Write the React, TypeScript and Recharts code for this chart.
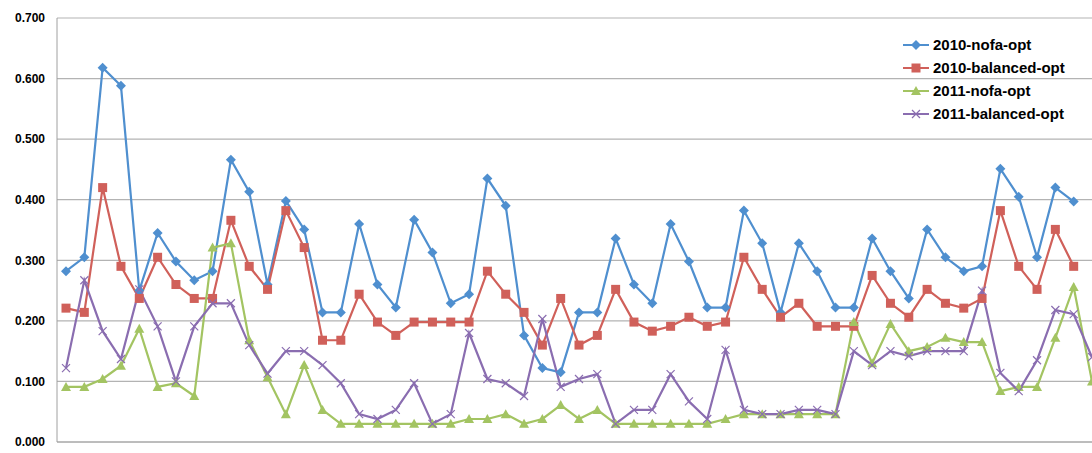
import { CartesianGrid, Line, LineChart, XAxis, YAxis } from 'recharts';

const nofa2010 = [0.282, 0.305, 0.618, 0.588, 0.25, 0.345, 0.298, 0.267, 0.282, 0.466, 0.413, 0.26, 0.398, 0.351, 0.214, 0.214, 0.36, 0.26, 0.222, 0.367, 0.313, 0.229, 0.244, 0.435, 0.39, 0.176, 0.122, 0.115, 0.214, 0.214, 0.336, 0.26, 0.229, 0.36, 0.298, 0.222, 0.222, 0.382, 0.328, 0.214, 0.328, 0.282, 0.222, 0.222, 0.336, 0.282, 0.237, 0.351, 0.305, 0.282, 0.29, 0.451, 0.405, 0.305, 0.42, 0.397, null];
const balanced2010 = [0.221, 0.214, 0.42, 0.29, 0.237, 0.305, 0.26, 0.237, 0.237, 0.366, 0.29, 0.252, 0.382, 0.321, 0.168, 0.168, 0.244, 0.198, 0.176, 0.198, 0.198, 0.198, 0.198, 0.282, 0.244, 0.214, 0.16, 0.237, 0.16, 0.176, 0.252, 0.198, 0.183, 0.191, 0.206, 0.191, 0.198, 0.305, 0.252, 0.206, 0.229, 0.191, 0.191, 0.191, 0.275, 0.229, 0.206, 0.252, 0.229, 0.221, 0.237, 0.382, 0.29, 0.252, 0.351, 0.29, null];
const nofa2011 = [0.091, 0.091, 0.104, 0.126, 0.187, 0.091, 0.097, 0.076, 0.321, 0.328, 0.168, 0.107, 0.046, 0.127, 0.053, 0.03, 0.03, 0.03, 0.03, 0.03, 0.03, 0.03, 0.038, 0.038, 0.046, 0.03, 0.038, 0.061, 0.038, 0.053, 0.03, 0.03, 0.03, 0.03, 0.03, 0.03, 0.038, 0.046, 0.046, 0.046, 0.046, 0.046, 0.046, 0.198, 0.13, 0.195, 0.15, 0.157, 0.172, 0.165, 0.165, 0.084, 0.091, 0.091, 0.172, 0.256, 0.1];
const balanced2011 = [0.122, 0.267, 0.183, 0.137, 0.252, 0.191, 0.1, 0.191, 0.229, 0.229, 0.16, 0.113, 0.15, 0.15, 0.127, 0.097, 0.046, 0.038, 0.053, 0.097, 0.03, 0.046, 0.18, 0.104, 0.097, 0.076, 0.203, 0.091, 0.104, 0.112, 0.03, 0.053, 0.053, 0.112, 0.067, 0.038, 0.152, 0.053, 0.046, 0.046, 0.053, 0.053, 0.046, 0.15, 0.127, 0.15, 0.142, 0.15, 0.15, 0.15, 0.25, 0.114, 0.084, 0.135, 0.218, 0.211, 0.14];
const yTicks = [0, 0.1, 0.2, 0.3, 0.4, 0.5, 0.6, 0.7];

const data = nofa2010.map((v, i) => ({
    idx: i + 1,
    a: v,
    b: balanced2010[i],
    c: nofa2011[i],
    d: balanced2011[i],
}));

const BLUE = '#4f8fcf';
const RED = '#d0605a';
const GREEN = '#a3c462';
const PURPLE = '#8a6db0';

function Marker({ cx, cy, kind, color }: any) {
    if (cx == null || cy == null || Number.isNaN(cy)) return null;
    if (kind === 'diamond') {
        return <path d={`M${cx},${cy - 5}L${cx + 5},${cy}L${cx},${cy + 5}L${cx - 5},${cy}Z`} fill={color} />;
    }
    if (kind === 'square') {
        return <rect x={cx - 4.5} y={cy - 4.5} width={9} height={9} fill={color} />;
    }
    if (kind === 'triangle') {
        return <path d={`M${cx},${cy - 5}L${cx + 5},${cy + 4}L${cx - 5},${cy + 4}Z`} fill={color} />;
    }
    return (
        <path d={`M${cx - 4},${cy - 4}L${cx + 4},${cy + 4}M${cx + 4},${cy - 4}L${cx - 4},${cy + 4}`} stroke={color} strokeWidth={1.2} />
    );
}

const series = [
    { key: 'a', name: '2010-nofa-opt', color: BLUE, kind: 'diamond' },
    { key: 'b', name: '2010-balanced-opt', color: RED, kind: 'square' },
    { key: 'c', name: '2011-nofa-opt', color: GREEN, kind: 'triangle' },
    { key: 'd', name: '2011-balanced-opt', color: PURPLE, kind: 'x' },
];

function LegendBox() {
    return (
        <div style={{ position: 'absolute', left: 903, top: 33, fontFamily: 'Arial, "Liberation Sans", sans-serif', fontWeight: 'bold', fontSize: 15 }}>
            {series.map((s) => (
                <div key={s.key} style={{ display: 'flex', alignItems: 'center', height: 23 }}>
                    <svg width={26} height={12} style={{ marginRight: 4 }}>
                        <line x1={0} y1={6} x2={26} y2={6} stroke={s.color} strokeWidth={2} />
                        <Marker cx={13} cy={6} kind={s.kind} color={s.color} />
                    </svg>
                    <span style={{ color: '#000' }}>{s.name}</span>
                </div>
            ))}
        </div>
    );
}

export default function App() {
    return (
        <div style={{ position: 'fixed', left: 0, top: 0, width: 1092, height: 453, overflow: 'hidden', background: '#fff' }}>
            <LineChart width={1110} height={453} data={data} margin={{ top: 18, right: 9, bottom: 10, left: 0 }}>
                <CartesianGrid vertical={false} stroke="#b3b3b3" strokeWidth={1.2} />
                <XAxis dataKey="idx" tick={false} tickLine={false} axisLine={{ stroke: '#a0a0a0' }} height={1} padding={{ left: 9, right: 9 }} />
                <YAxis
                    domain={[0, 0.7]}
                    ticks={yTicks}
                    width={57}
                    tickLine={false}
                    axisLine={{ stroke: '#a0a0a0' }}
                    tickFormatter={(v: number) => v.toFixed(3)}
                    tick={{ fill: '#000', fontSize: 12, fontWeight: 'bold', fontFamily: 'Arial, "Liberation Sans", sans-serif', dx: -4 }}
                />
                {series.map((s) => (
                    <Line
                        key={s.key}
                        dataKey={s.key}
                        name={s.name}
                        stroke={s.color}
                        strokeWidth={2.2}
                        isAnimationActive={false}
                        dot={(p: any) => <Marker key={`${s.key}-${p.index}`} cx={p.cx} cy={p.cy} kind={s.kind} color={s.color} />}
                        activeDot={false}
                    />
                ))}
            </LineChart>
            <LegendBox />
        </div>
    );
}
